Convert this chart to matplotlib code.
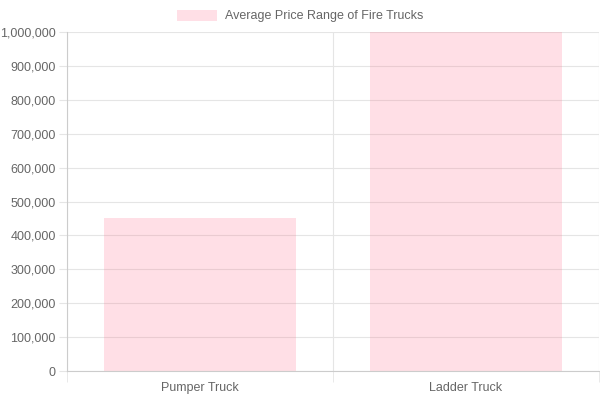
import matplotlib
matplotlib.use("Agg")
import matplotlib.pyplot as plt
from matplotlib.patches import Patch

categories = ["Pumper Truck", "Ladder Truck"]
values = [450000, 1000000]
label = "Average Price Range of Fire Trucks"

plt.rcParams['font.family'] = ['Liberation Sans', 'DejaVu Sans']
fig = plt.figure(figsize=(6, 4), dpi=100)
ax = fig.add_axes([67/600, 29/400, 532/600, 339/400])
x = list(range(len(categories)))
ax.bar(x, values, width=0.72, color=(1, 99/255, 132/255, 0.2), zorder=2)
ax.set_xlim(-0.5, 1.5)
ax.set_ylim(0, 1000000)
ax.set_yticks(range(0, 1000001, 100000))
ax.set_yticklabels([f"{v:,}" for v in range(0, 1000001, 100000)])
ax.set_xticks(x)
ax.set_xticklabels(categories)
ax.set_xticks([-0.5, 0.5, 1.5], minor=True)
ax.grid(axis='y', color='#e5e5e5', linewidth=0.8, zorder=0)
ax.grid(axis='x', which='minor', color='#e5e5e5', linewidth=0.8, zorder=0)
ax.tick_params(axis='x', which='major', length=0, pad=8, labelsize=9, labelcolor='#666666')
ax.tick_params(axis='x', which='minor', length=8, color='#e5e5e5')
ax.tick_params(axis='y', length=6, color='#e5e5e5', labelsize=9, labelcolor='#666666', pad=2)
for s in ['top', 'right']:
    ax.spines[s].set_visible(False)
for s in ['left', 'bottom']:
    ax.spines[s].set_color('#cccccc')
    ax.spines[s].set_linewidth(0.8)
fig.legend(handles=[Patch(facecolor=(1, 99/255, 132/255, 0.2), label=label)],
           loc='center', bbox_to_anchor=(0.5, 1 - 16/400), frameon=False,
           fontsize=9, labelcolor='#666666', handlelength=3.2, handleheight=1.0,
           handletextpad=0.6)
fig.savefig("out.png", dpi=100)
